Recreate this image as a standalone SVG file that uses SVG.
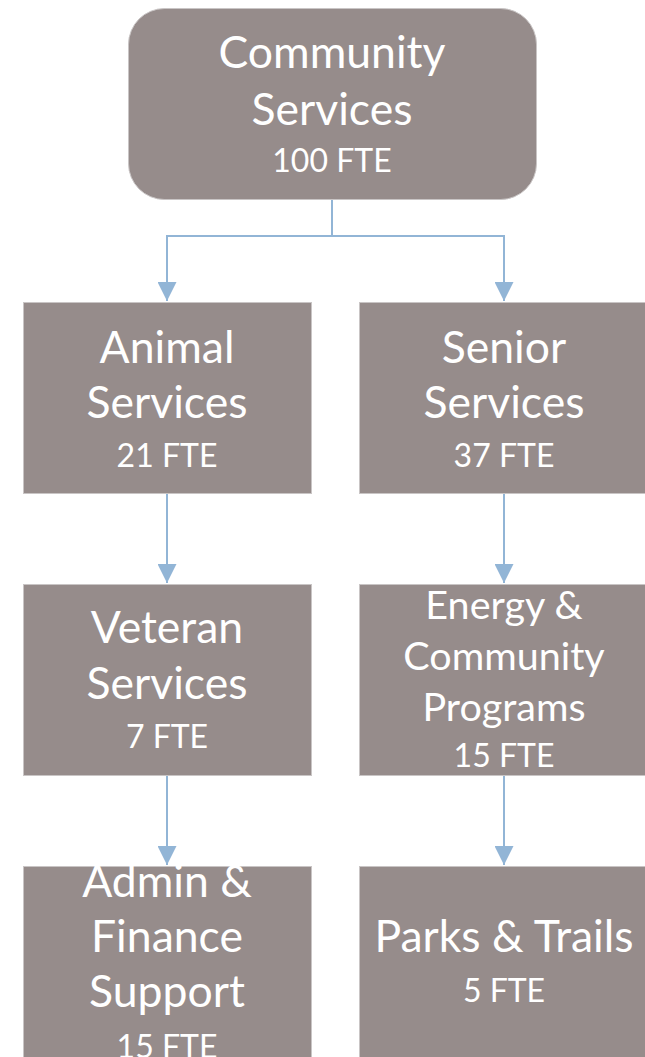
<svg xmlns="http://www.w3.org/2000/svg" width="645" height="1057" viewBox="0 0 645 1057">
<style>
.box{fill:#968c8b;stroke:#c9c5c5;stroke-width:1}
.t{fill:#ffffff;font-family:Lato,"Open Sans","Liberation Sans",sans-serif;text-anchor:middle}
.big{font-size:44.5px}
.mid{font-size:39.5px}
.fte{font-size:32px}
.conn{fill:none;stroke:#92b5d6;stroke-width:2}
</style>
<defs>
<marker id="ah" markerUnits="userSpaceOnUse" markerWidth="20" markerHeight="19" refX="19" refY="9.5" orient="auto" viewBox="0 0 19 19">
<path d="M0,0 L19,9.5 L0,19 Z" fill="#92b5d6"/>
</marker>
</defs>
<rect width="645" height="1057" fill="#ffffff"/>
<g id="connectors">
<path class="conn" d="M332,200 V236 H167 V301" marker-end="url(#ah)"/>
<path class="conn" d="M332,236 H504 V301" marker-end="url(#ah)"/>
<path class="conn" d="M167,494 V583" marker-end="url(#ah)"/>
<path class="conn" d="M504,494 V583" marker-end="url(#ah)"/>
<path class="conn" d="M167,776 V865" marker-end="url(#ah)"/>
<path class="conn" d="M504,776 V865" marker-end="url(#ah)"/>
</g>
<g id="community-services">
<rect class="box" x="128.5" y="8.5" width="408" height="191" rx="36" ry="36"/>
<text class="t big" x="332" y="68">Community</text>
<text class="t big" x="332" y="125">Services</text>
<text class="t fte" x="332" y="172">100 FTE</text>
</g>
<g id="animal-services">
<rect class="box" x="23.5" y="302.5" width="288" height="191"/>
<text class="t big" x="167" y="363">Animal</text>
<text class="t big" x="167" y="418">Services</text>
<text class="t fte" x="167" y="467">21 FTE</text>
</g>
<g id="senior-services">
<rect class="box" x="359.5" y="302.5" width="290" height="191"/>
<text class="t big" x="504" y="363">Senior</text>
<text class="t big" x="504" y="418">Services</text>
<text class="t fte" x="504" y="467">37 FTE</text>
</g>
<g id="veteran-services">
<rect class="box" x="23.5" y="584.5" width="288" height="191"/>
<text class="t big" x="167" y="643">Veteran</text>
<text class="t big" x="167" y="699">Services</text>
<text class="t fte" x="167" y="748">7 FTE</text>
</g>
<g id="energy-community-programs">
<rect class="box" x="359.5" y="584.5" width="290" height="191"/>
<text class="t mid" x="504" y="619">Energy &amp;</text>
<text class="t mid" x="504" y="670">Community</text>
<text class="t mid" x="504" y="721">Programs</text>
<text class="t fte" x="504" y="767">15 FTE</text>
</g>
<g id="admin-finance-support">
<rect class="box" x="23.5" y="866.5" width="288" height="200"/>
<text class="t big" x="167" y="897">Admin &amp;</text>
<text class="t big" x="167" y="952">Finance</text>
<text class="t big" x="167" y="1007">Support</text>
<text class="t fte" x="167" y="1058">15 FTE</text>
</g>
<g id="parks-trails">
<rect class="box" x="359.5" y="866.5" width="290" height="200"/>
<text class="t big" x="504" y="952">Parks &amp; Trails</text>
<text class="t fte" x="504" y="1002">5 FTE</text>
</g>
</svg>
